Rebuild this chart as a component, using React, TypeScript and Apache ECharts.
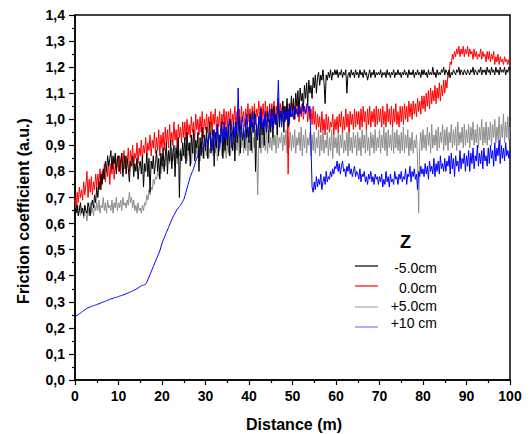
import React, { useEffect, useRef } from "react";
import * as echarts from "echarts";

// Distance step between readings (m)
const STEP = 0.25;

// Friction coefficient readings, one every 0.25 m from 0 to 100 m (20 per row = 5 m)
const zMinus5 = [
  0.66,0.64,0.67,0.63,0.65,0.68,0.64,0.66,0.63,0.67,0.65,0.64,0.68,0.66,0.63,0.67,0.69,0.66,0.71,0.68,
  0.74,0.70,0.76,0.73,0.79,0.75,0.81,0.77,0.84,0.80,0.86,0.82,0.85,0.88,0.81,0.86,0.83,0.87,0.79,0.85,
  0.86,0.80,0.84,0.87,0.78,0.83,0.86,0.79,0.85,0.81,0.76,0.84,0.82,0.86,0.78,0.83,0.80,0.85,0.77,0.82,
  0.84,0.79,0.86,0.74,0.83,0.80,0.87,0.78,0.85,0.72,0.84,0.81,0.86,0.79,0.83,0.88,0.80,0.85,0.77,0.87,
  0.82,0.89,0.80,0.86,0.91,0.79,0.88,0.84,0.92,0.81,0.87,0.90,0.78,0.89,0.85,0.93,0.70,0.88,0.84,0.91,
  0.86,0.93,0.83,0.95,0.88,0.91,0.82,0.94,0.87,0.96,0.84,0.92,0.89,0.95,0.80,0.93,0.86,0.97,0.85,0.94,
  0.88,0.97,0.85,0.94,0.99,0.87,0.93,0.96,0.82,0.95,0.89,0.98,0.86,0.94,0.91,0.99,0.85,0.96,0.88,0.97,
  0.90,0.98,0.86,1.00,0.93,0.88,0.97,0.84,0.99,0.91,0.95,1.01,0.87,0.98,0.92,0.96,0.89,1.00,0.93,0.97,
  0.91,1.02,0.88,0.99,0.95,1.03,0.80,0.98,0.92,1.01,0.89,1.04,0.94,0.99,0.90,1.02,0.96,1.03,0.91,1.00,
  0.95,1.04,0.93,1.05,0.98,1.02,0.94,1.06,0.97,1.03,0.99,1.07,0.95,1.05,1.00,1.08,0.97,1.06,1.01,1.09,
  1.03,1.08,1.00,1.10,1.05,1.11,1.02,1.12,1.07,1.10,1.04,1.13,1.08,1.14,1.06,1.15,1.10,1.13,1.08,1.16,
  1.12,1.17,1.10,1.16,1.18,1.13,1.17,1.15,1.19,1.14,1.06,1.17,1.15,1.18,1.16,1.19,1.15,1.18,1.17,1.19,
  1.17,1.19,1.16,1.18,1.17,1.19,1.16,1.18,1.17,1.19,1.10,1.17,1.18,1.16,1.19,1.17,1.18,1.16,1.19,1.17,
  1.18,1.16,1.19,1.17,1.18,1.16,1.19,1.17,1.18,1.15,1.17,1.19,1.16,1.18,1.17,1.19,1.16,1.18,1.17,1.18,
  1.17,1.19,1.16,1.18,1.17,1.18,1.16,1.19,1.17,1.18,1.16,1.18,1.17,1.19,1.16,1.18,1.17,1.19,1.17,1.18,
  1.16,1.18,1.17,1.19,1.17,1.18,1.16,1.19,1.17,1.18,1.17,1.19,1.16,1.18,1.17,1.19,1.17,1.18,1.16,1.19,
  1.17,1.19,1.17,1.18,1.16,1.19,1.17,1.18,1.17,1.20,1.17,1.18,1.16,1.19,1.17,1.18,1.17,1.19,1.18,1.20,
  1.17,1.19,1.18,1.17,1.19,1.16,1.18,1.17,1.19,1.18,1.17,1.19,1.18,1.20,1.17,1.19,1.18,1.17,1.19,1.18,
  1.17,1.19,1.18,1.17,1.19,1.18,1.20,1.17,1.19,1.18,1.17,1.19,1.18,1.20,1.17,1.19,1.18,1.19,1.17,1.20,
  1.18,1.19,1.17,1.20,1.18,1.19,1.17,1.20,1.18,1.19,1.17,1.20,1.18,1.19,1.18,1.20,1.17,1.19,1.18,1.20,
  1.19,
];

const z0 = [
  0.70,0.66,0.72,0.68,0.74,0.70,0.73,0.69,0.76,0.71,0.75,0.80,0.70,0.77,0.72,0.78,0.71,0.76,0.73,0.79,
  0.74,0.79,0.75,0.81,0.73,0.80,0.77,0.83,0.76,0.82,0.78,0.84,0.75,0.83,0.79,0.85,0.77,0.84,0.80,0.86,
  0.80,0.86,0.79,0.87,0.82,0.88,0.81,0.86,0.83,0.89,0.80,0.88,0.84,0.90,0.82,0.87,0.85,0.91,0.83,0.89,
  0.86,0.92,0.84,0.90,0.87,0.93,0.85,0.91,0.88,0.94,0.86,0.92,0.89,0.95,0.87,0.93,0.88,0.96,0.86,0.94,
  0.89,0.95,0.88,0.97,0.90,0.96,0.89,0.98,0.91,0.95,0.90,0.99,0.92,0.96,0.89,0.98,0.93,0.97,0.91,0.99,
  0.93,0.99,0.92,1.00,0.94,0.98,0.93,1.01,0.95,0.99,0.92,1.02,0.96,1.00,0.94,1.01,0.95,1.03,0.93,1.00,
  0.96,1.02,0.95,1.01,0.97,1.03,0.94,1.02,0.98,1.04,0.96,1.01,0.97,1.03,0.95,1.02,0.98,1.04,0.96,1.03,
  0.97,1.03,0.98,1.04,0.96,1.02,0.99,1.05,0.97,1.03,0.98,1.04,0.96,1.05,0.99,1.03,0.97,1.04,0.98,1.06,
  0.99,1.04,0.97,1.05,1.00,1.06,0.98,1.04,1.01,1.07,0.99,1.05,1.00,1.06,0.98,1.07,1.01,1.05,0.99,1.06,
  1.00,1.06,1.01,1.07,0.99,1.05,1.02,1.08,1.00,1.06,1.01,1.07,1.02,1.05,1.00,1.06,0.79,1.04,1.01,1.07,
  1.01,1.06,1.00,1.05,1.02,1.07,0.99,1.05,1.01,1.06,1.00,1.04,1.02,1.06,0.99,1.05,1.00,1.04,0.98,1.05,
  0.98,1.03,0.96,1.02,0.97,1.01,0.95,1.03,0.96,1.00,0.94,1.02,0.96,1.01,0.95,0.99,0.97,1.02,0.94,1.00,
  0.96,1.01,0.95,1.02,0.97,1.03,0.95,1.01,0.96,1.04,0.97,1.02,0.95,1.03,0.98,1.02,0.96,1.04,0.97,1.03,
  0.98,1.03,0.96,1.04,0.97,1.05,0.99,1.03,0.96,1.04,0.98,1.05,0.97,1.03,0.99,1.04,0.97,1.05,0.98,1.04,
  0.99,1.04,0.97,1.05,0.98,1.03,0.97,1.06,0.99,1.04,0.98,1.05,0.97,1.04,0.99,1.06,0.98,1.03,0.97,1.05,
  0.99,1.05,0.98,1.06,1.00,1.05,0.99,1.07,1.01,1.06,1.00,1.07,1.02,1.06,1.01,1.08,1.03,1.07,1.02,1.09,
  1.04,1.09,1.03,1.10,1.05,1.11,1.04,1.12,1.06,1.11,1.07,1.13,1.06,1.12,1.08,1.14,1.07,1.13,1.09,1.15,
  1.10,1.15,1.12,1.18,1.16,1.22,1.21,1.25,1.23,1.26,1.24,1.27,1.25,1.28,1.24,1.27,1.25,1.28,1.24,1.27,
  1.25,1.28,1.24,1.27,1.25,1.26,1.23,1.27,1.24,1.26,1.23,1.25,1.24,1.27,1.23,1.26,1.24,1.25,1.22,1.26,
  1.23,1.26,1.22,1.25,1.23,1.26,1.21,1.24,1.22,1.25,1.21,1.24,1.22,1.23,1.21,1.24,1.22,1.23,1.21,1.23,
  1.22,
];

const zPlus5 = [
  0.69,0.66,0.68,0.64,0.67,0.63,0.66,0.65,0.62,0.67,0.64,0.61,0.66,0.63,0.68,0.64,0.66,0.63,0.67,0.65,
  0.68,0.65,0.69,0.64,0.67,0.66,0.70,0.65,0.68,0.64,0.69,0.66,0.67,0.65,0.69,0.64,0.68,0.66,0.70,0.65,
  0.68,0.66,0.69,0.65,0.70,0.67,0.68,0.66,0.69,0.67,0.72,0.68,0.70,0.66,0.69,0.65,0.67,0.64,0.68,0.65,
  0.66,0.64,0.67,0.65,0.68,0.67,0.71,0.69,0.73,0.71,0.74,0.73,0.77,0.75,0.78,0.77,0.80,0.78,0.82,0.79,
  0.83,0.81,0.85,0.82,0.87,0.84,0.88,0.83,0.86,0.89,0.84,0.87,0.85,0.90,0.83,0.88,0.86,0.89,0.84,0.87,
  0.88,0.85,0.90,0.84,0.89,0.86,0.91,0.83,0.88,0.87,0.92,0.85,0.89,0.86,0.90,0.84,0.91,0.87,0.89,0.85,
  0.90,0.86,0.92,0.85,0.89,0.88,0.93,0.86,0.90,0.87,0.92,0.84,0.91,0.88,0.93,0.86,0.90,0.87,0.92,0.85,
  0.91,0.87,0.93,0.86,0.92,0.89,0.94,0.87,0.91,0.88,0.95,0.86,0.92,0.89,0.94,0.87,0.93,0.88,0.95,0.86,
  0.92,0.88,0.95,0.87,0.93,0.89,0.96,0.88,0.71,0.91,0.94,0.87,0.95,0.89,0.93,0.88,0.96,0.87,0.94,0.89,
  0.93,0.88,0.95,0.90,0.94,0.87,0.96,0.89,0.93,0.91,0.95,0.88,0.94,0.90,0.96,0.87,0.93,0.89,0.95,0.88,
  0.94,0.89,0.96,0.87,0.93,0.90,0.95,0.88,0.97,0.86,0.94,0.89,0.96,0.87,0.93,0.90,0.95,0.86,0.94,0.88,
  0.95,0.87,0.93,0.89,0.96,0.86,0.94,0.88,0.97,0.87,0.92,0.89,0.95,0.86,0.93,0.88,0.96,0.85,0.94,0.89,
  0.93,0.87,0.95,0.86,0.94,0.89,0.96,0.87,0.92,0.88,0.95,0.86,0.97,0.88,0.93,0.87,0.95,0.89,0.94,0.86,
  0.95,0.88,0.93,0.86,0.96,0.89,0.94,0.87,0.97,0.88,0.93,0.86,0.95,0.89,0.94,0.87,0.96,0.88,0.93,0.89,
  0.96,0.87,0.94,0.89,0.97,0.88,0.95,0.86,0.96,0.89,0.94,0.88,0.97,0.87,0.95,0.89,0.96,0.88,0.94,0.87,
  0.95,0.88,0.97,0.87,0.94,0.89,0.96,0.86,0.93,0.88,0.95,0.87,0.92,0.89,0.94,0.85,0.64,0.90,0.95,0.88,
  0.96,0.89,0.94,0.88,0.97,0.90,0.95,0.87,0.98,0.89,0.94,0.90,0.96,0.88,0.97,0.89,0.95,0.91,0.98,0.88,
  0.96,0.90,0.97,0.88,0.95,0.91,0.98,0.89,0.96,0.90,0.97,0.88,0.99,0.90,0.95,0.91,0.97,0.89,0.98,0.90,
  0.96,0.91,0.98,0.89,0.97,0.92,0.99,0.90,0.96,0.91,0.98,0.89,0.97,0.92,1.00,0.90,0.97,0.91,0.99,0.90,
  0.97,0.92,0.99,0.90,0.98,0.93,1.00,0.91,0.97,0.92,1.01,0.90,0.98,0.93,1.02,0.91,0.99,0.93,1.01,0.92,
  0.97,
];

const zPlus10 = [
  0.245,0.246,0.248,0.251,0.254,0.257,0.260,0.263,0.266,0.269,0.272,0.275,0.277,0.279,0.280,0.282,0.283,0.285,0.286,0.288,
  0.289,0.291,0.292,0.294,0.296,0.298,0.299,0.301,0.302,0.304,0.306,0.307,0.309,0.311,0.312,0.314,0.315,0.316,0.317,0.319,
  0.320,0.322,0.323,0.324,0.326,0.327,0.329,0.331,0.332,0.334,0.336,0.338,0.340,0.342,0.344,0.346,0.348,0.350,0.353,0.356,
  0.359,0.361,0.363,0.364,0.366,0.368,0.375,0.385,0.395,0.405,0.415,0.425,0.435,0.445,0.455,0.465,0.475,0.485,0.495,0.510,
  0.525,0.535,0.545,0.555,0.565,0.575,0.585,0.595,0.605,0.615,0.625,0.632,0.640,0.648,0.655,0.660,0.665,0.670,0.678,0.685,
  0.692,0.705,0.720,0.735,0.750,0.765,0.780,0.790,0.800,0.810,0.825,0.840,0.850,0.860,0.870,0.875,0.880,0.885,0.890,0.900,
  0.91,0.93,0.90,0.92,0.95,0.91,0.88,0.93,0.96,0.90,0.94,0.98,0.92,0.89,0.95,0.97,0.91,0.99,0.93,0.96,
  0.92,0.97,1.00,0.94,0.89,0.96,0.99,0.93,0.97,0.95,1.12,0.96,0.93,0.99,1.01,0.95,0.92,0.98,1.02,0.96,
  0.94,1.00,0.97,1.03,0.95,0.99,1.02,0.96,0.93,1.01,0.98,1.04,0.96,1.00,0.97,1.03,0.95,1.01,0.99,1.04,
  0.97,1.02,0.96,1.03,1.00,0.98,1.04,1.15,0.99,1.03,0.97,1.02,1.05,0.99,1.03,1.00,1.04,0.98,1.05,1.01,
  1.03,1.00,1.05,1.02,1.04,1.01,1.05,1.03,1.02,1.06,1.03,1.05,1.02,1.04,1.06,1.03,1.05,0.90,0.74,0.72,
  0.76,0.73,0.78,0.74,0.77,0.75,0.79,0.73,0.76,0.78,0.75,0.80,0.76,0.78,0.77,0.80,0.78,0.81,0.79,0.82,
  0.81,0.84,0.80,0.83,0.79,0.82,0.84,0.80,0.81,0.78,0.82,0.80,0.83,0.79,0.81,0.78,0.80,0.82,0.78,0.80,
  0.79,0.77,0.81,0.76,0.79,0.78,0.80,0.76,0.78,0.75,0.79,0.77,0.80,0.76,0.78,0.75,0.79,0.77,0.78,0.75,
  0.78,0.76,0.79,0.74,0.77,0.75,0.80,0.76,0.78,0.74,0.79,0.76,0.77,0.75,0.80,0.77,0.78,0.75,0.79,0.77,
  0.80,0.76,0.78,0.77,0.81,0.75,0.79,0.78,0.82,0.76,0.80,0.78,0.81,0.77,0.79,0.73,0.80,0.78,0.82,0.79,
  0.81,0.78,0.83,0.79,0.82,0.77,0.84,0.80,0.82,0.79,0.85,0.78,0.83,0.80,0.84,0.79,0.86,0.81,0.83,0.80,
  0.85,0.80,0.84,0.82,0.86,0.79,0.87,0.81,0.85,0.78,0.86,0.82,0.84,0.80,0.88,0.81,0.85,0.83,0.87,0.80,
  0.86,0.82,0.88,0.80,0.87,0.83,0.89,0.81,0.86,0.84,0.90,0.82,0.87,0.83,0.88,0.81,0.89,0.84,0.86,0.82,
  0.89,0.83,0.90,0.85,0.88,0.82,0.91,0.84,0.89,0.86,0.92,0.83,0.90,0.85,0.89,0.84,0.91,0.86,0.88,0.85,
  0.88,
];

const seriesNames = ["-5.0cm", "0.0cm", "+5.0cm", "+10 cm"];
const legendTitle = "Z";
const xTitle = "Distance (m)";
const yTitle = "Friction coefficient (a.u.)";

const FONT = '"Liberation Sans", Arial, sans-serif';

const toPairs = (arr: number[]) => arr.map((v, i) => [i * STEP, v]);

export default function App() {
  const ref = useRef<HTMLDivElement>(null);
  useEffect(() => {
    document.body.style.margin = "0";
    if (!ref.current) return;
    const chart = echarts.init(ref.current, undefined, { renderer: "svg" });

    const colors = ["#000000", "#ff0000", "#8c8c8c", "#0000ff"];
    const legendColors = ["#000000", "#ff0000", "#a8a8a8", "#7878ff"];
    const datasets = [zMinus5, z0, zPlus5, zPlus10];
    const drawOrder = [2, 1, 0, 3];

    const legendRowsLine = [266, 286, 307, 327];
    const legendRowsText = [268, 288, 306, 323];

    const legendGraphics: any[] = [
      {
        type: "text",
        x: 405.5,
        y: 242,
        style: {
          text: legendTitle,
          font: `bold 18px ${FONT}`,
          fill: "#000",
          align: "center",
          verticalAlign: "middle",
        },
      },
    ];
    seriesNames.forEach((name, i) => {
      legendGraphics.push({
        type: "line",
        shape: { x1: 355, y1: legendRowsLine[i], x2: 378, y2: legendRowsLine[i] },
        style: { stroke: legendColors[i], lineWidth: 1.2 },
      });
      legendGraphics.push({
        type: "text",
        x: 437,
        y: legendRowsText[i],
        style: {
          text: name,
          font: `14px ${FONT}`,
          fill: "#000",
          align: "right",
          verticalAlign: "middle",
        },
      });
    });

    const option: any = {
      animation: false,
      backgroundColor: "#ffffff",
      grid: {
        left: 75,
        right: 20,
        top: 15,
        bottom: 54,
        show: true,
        borderColor: "#000",
        borderWidth: 1.5,
        backgroundColor: "transparent",
      },
      xAxis: {
        type: "value",
        min: 0,
        max: 100,
        interval: 10,
        axisLine: { show: true, onZero: false, lineStyle: { color: "#000", width: 1.5 } },
        axisTick: { show: true, length: 5, lineStyle: { color: "#000", width: 1.2 } },
        minorTick: { show: true, splitNumber: 2, length: 3, lineStyle: { color: "#000", width: 1.2 } },
        splitLine: { show: false },
        axisLabel: {
          color: "#000",
          fontFamily: FONT,
          fontWeight: "bold",
          fontSize: 14,
          margin: 9,
        },
      },
      yAxis: {
        type: "value",
        min: 0,
        max: 1.4,
        interval: 0.1,
        axisLine: { show: true, onZero: false, lineStyle: { color: "#000", width: 1.5 } },
        axisTick: { show: true, length: 6, lineStyle: { color: "#000", width: 1.2 } },
        minorTick: { show: true, splitNumber: 2, length: 3, lineStyle: { color: "#000", width: 1.2 } },
        splitLine: { show: false },
        axisLabel: {
          color: "#000",
          fontFamily: FONT,
          fontWeight: "bold",
          fontSize: 14,
          margin: 10,
          formatter: (v: number) => v.toFixed(1).replace(".", ","),
        },
      },
      graphic: [
        {
          type: "text",
          x: 23,
          y: 211,
          rotation: Math.PI / 2,
          style: {
            text: yTitle,
            font: `bold 16px ${FONT}`,
            fill: "#000",
            align: "center",
            verticalAlign: "middle",
          },
        },
        {
          type: "text",
          x: 294,
          y: 424,
          style: {
            text: xTitle,
            font: `bold 16px ${FONT}`,
            fill: "#000",
            align: "center",
            verticalAlign: "middle",
          },
        },
        ...legendGraphics,
      ],
      series: drawOrder.map((idx) => ({
        name: seriesNames[idx],
        type: "line",
        data: toPairs(datasets[idx]),
        showSymbol: false,
        symbol: "none",
        lineStyle: { color: colors[idx], width: 1 },
        itemStyle: { color: colors[idx] },
        emphasis: { disabled: true },
      })),
    };
    chart.setOption(option);
    return () => chart.dispose();
  }, []);
  return <div ref={ref} style={{ width: 530, height: 434 }} />;
}
